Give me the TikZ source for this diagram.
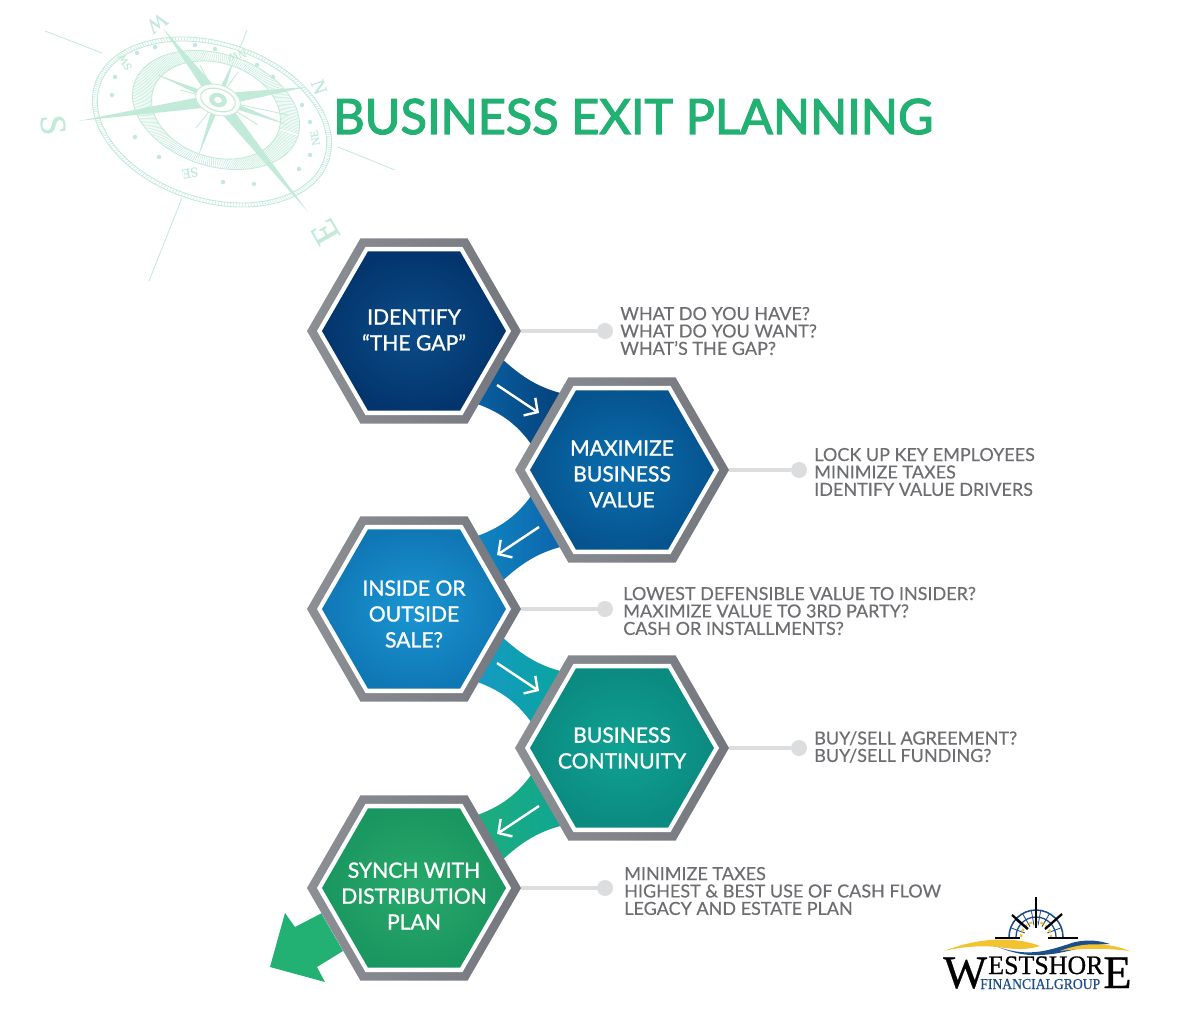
\documentclass[tikz,border=0pt]{standalone}
\usepackage{fontspec}
\setmainfont{Lato}
\newfontfamily\logofont[FakeBold=.6]{Liberation Serif}
\newfontfamily\medfont[FakeBold=1.2]{Lato}
\newfontfamily\headfont[FakeBold=2.5]{Lato}
\newfontfamily\sidefont[FakeBold=.4]{Lato}
\usetikzlibrary{shapes.geometric,arrows.meta,backgrounds,calc}
\definecolor{titlegreen}{HTML}{22B073}
\definecolor{mint}{HTML}{C2EAD9}
\definecolor{labelgray}{HTML}{6D6E71}
\definecolor{leadergray}{HTML}{DCDDDE}
\definecolor{logoblue}{HTML}{1C4D8C}
\definecolor{logogold}{HTML}{F2C230}
\definecolor{rimleft}{HTML}{8C8F94}
\definecolor{rimmid}{HTML}{A6A9AC}
\definecolor{rimright}{HTML}{74777D}
\definecolor{navyin}{HTML}{0B4C88}
\definecolor{navyout}{HTML}{03356C}
\definecolor{bluein}{HTML}{0B6EAE}
\definecolor{blueout}{HTML}{05548F}
\definecolor{skyin}{HTML}{1A96D2}
\definecolor{skyout}{HTML}{1077B5}
\definecolor{tealin}{HTML}{0FA293}
\definecolor{tealout}{HTML}{0B8A80}
\definecolor{greenin}{HTML}{28A96A}
\definecolor{greenout}{HTML}{1A9660}
\tikzset{
	hexrim/.style={regular polygon,regular polygon sides=6,minimum size=5.35cm,inner sep=0pt,left color=rimleft,middle color=rimmid,right color=rimright},
	hexring/.style={regular polygon,regular polygon sides=6,minimum size=4.85cm,inner sep=0pt,fill=white},
	hexfill/.style={regular polygon,regular polygon sides=6,minimum size=4.6cm,inner sep=0pt},
	hextext/.style={text=white,align=center,font=\medfont\fontsize{15}{18.4}\selectfont},
	leader/.style={draw=leadergray,line width=2.2pt},
	leaderdot/.style={circle,fill=leadergray,minimum size=.4cm,inner sep=0pt},
	sidetext/.style={anchor=west,align=left,text=labelgray,inner sep=0pt,font=\sidefont\fontsize{12.8}{12.4}\selectfont},
	flowline/.style={draw=white,line width=1.7pt,-{Straight Barb[length=7pt,width=15pt,line width=1.7pt]}},
	mintline/.style={draw=mint,line width=.6pt},
	hatchline/.style={draw=mint,line width=.35pt},
	minttext/.style={text=mint,inner sep=0pt,font=\logofont},
	logotext/.style={anchor=base west,inner sep=0pt},
}
\newcommand{\hexnode}[6][0]{
	\node[hexrim] (#2) at (#3) {};
	\node[hexring] (#2ring) at (#2) {};
	\node[hexfill,inner color=#4,outer color=#5] (#2fill) at (#2) {};
	\node[hextext,yshift=-#1*.025cm] (#2text) at (#2) {#6};
}
\begin{document}
\begin{tikzpicture}[x=.025cm,y=-.025cm]
	\useasboundingbox (0,0) rectangle (1200,1010);
	% compass
	\coordinate (hub) at (218,100);
	\begin{scope}[shift={(212,122)},rotate=-18]
	\draw[mintline] (0,0) ellipse [x radius=123,y radius=80];
	\draw[mintline] (0,0) ellipse [x radius=118,y radius=76];
	\foreach \a in {0,1.5,...,358}
		\draw[hatchline] (\a:123 and 80) -- (\a:118 and 76);
	\end{scope}
	\begin{scope}[shift={(216,110)},rotate=-18]
	\draw[mintline] (0,0) ellipse [x radius=86,y radius=56];
	\draw[mintline] (0,0) ellipse [x radius=66,y radius=47];
	\foreach \a in {0,1.5,...,358}
		\draw[hatchline] (\a:86 and 56) -- (\a:66 and 47);
	\end{scope}
	\foreach \x/\y in {115/77,112/95,137/53,155/47,195/45,215/49,257/65,273/77,302/105,310/122,310/155,299/169,254/184,223/182,159/157,135/137}
		\fill[mint] (\x,\y) circle (1.6pt);
	\foreach \x/\y in {288/115,158/75,200/65,258/125,180/90,250/110,238/72,196/128}
		\draw[mintline] (hub) -- (\x,\y);
	\foreach \x/\y in {234/60,198/157,158/75,288/125}
		\fill[mint] (\x,\y) -- ($(hub)!.09cm!90:(\x,\y)$) -- (hub) -- ($(hub)!.09cm!-90:(\x,\y)$) -- cycle;
	\foreach \x/\y in {307/87,78/121,163/28,308/212}
		\fill[mint] (\x,\y) -- ($(hub)!.16cm!90:(\x,\y)$) -- (hub) -- ($(hub)!.16cm!-90:(\x,\y)$) -- cycle;
	\begin{scope}[shift={(hub)},rotate=-18]
	\draw[mintline,fill=white] (0,0) ellipse [x radius=23,y radius=15];
	\draw[mint,line width=.8pt] (0,0) ellipse [x radius=18,y radius=11];
	\fill[mint] (0,0) ellipse [x radius=9,y radius=7];
	\fill[white] (0,0) ellipse [x radius=4,y radius=3];
	\end{scope}
	\draw[mintline] (45,31) -- (102,53);
	\draw[mintline] (338,147) -- (395,170);
	\draw[mintline] (247,30) -- (240,48);
	\draw[mintline] (182,198) -- (149,281);
	\node[minttext,rotate=-85,font=\logofont\fontsize{26}{26}\selectfont] (compassS) at (53,125) {S};
	\node[minttext,rotate=-70,font=\logofont\fontsize{14}{14}\selectfont] (compassN) at (319,87) {N};
	\node[minttext,rotate=-145,font=\logofont\fontsize{15}{15}\selectfont] (compassW) at (157,23) {W};
	\node[minttext,rotate=120,font=\logofont\fontsize{26}{26}\selectfont] (compassE) at (325,232) {E};
	\node[minttext,rotate=120,font=\logofont\fontsize{8}{8}\selectfont] (compassSW) at (125,62) {SW};
	\node[minttext,rotate=195,font=\logofont\fontsize{8}{8}\selectfont] (compassNW) at (237,55) {NW};
	\node[minttext,rotate=100,font=\logofont\fontsize{8}{8}\selectfont] (compassNE) at (315,138) {NE};
	\node[minttext,rotate=190,font=\logofont\fontsize{10}{10}\selectfont] (compassSE) at (190,173) {SE};
	% title
	\node[anchor=base west,inner sep=0pt,text=titlegreen,font=\headfont\fontsize{34.6}{36}\selectfont] (title) at (333,134) {BUSINESS EXIT PLANNING};
	% hexagons
	\hexnode[-1]{identify}{414,331}{navyin}{navyout}{IDENTIFY\\“THE GAP”}
	\hexnode[4]{maximize}{622,470}{bluein}{blueout}{MAXIMIZE\\BUSINESS\\VALUE}
	\hexnode[5]{sale}{414,609}{skyin}{skyout}{INSIDE OR\\OUTSIDE\\SALE?}
	\hexnode{continuity}{622,748}{tealin}{tealout}{BUSINESS\\CONTINUITY}
	\hexnode[8]{synch}{414,888}{greenin}{greenout}{SYNCH WITH\\DISTRIBUTION\\PLAN}
	% ribbons between hexagons
	\begin{scope}[on background layer]
	\foreach \hex/\ys/\cola/\colb in {identify/1/0A63A5/043F78,sale/-1/1088C4/0C62A8,sale/1/1798C8/08A69C,synch/-1/1FAE7A/0EA595}{
		\begin{scope}[shift={(\hex)},yscale=\ys]
		\definecolor{ribbona}{HTML}{\cola}
		\definecolor{ribbonb}{HTML}{\colb}
		\shade[left color=ribbona,right color=ribbonb] (80,20) .. controls (105,45) and (125,58) .. (155,64) -- (125,125) .. controls (105,92) and (85,80) .. (55,70) -- cycle;
		\end{scope}
	}
	\end{scope}
	\foreach \hex/\ys/\tail/\tip in {identify/1/flowa/flowb,sale/-1/flowb/flowa,sale/1/flowa/flowb,synch/-1/flowb/flowa}{
		\begin{scope}[shift={(\hex)},yscale=\ys]
		\coordinate (flowa) at (83,54);
		\coordinate (flowb) at (125,82);
		\draw[flowline] (\tail) -- (\tip);
		\end{scope}
	}
	% leaving arrow
	\begin{scope}[on background layer]
	\fill[titlegreen] (synch) -- (322,913) -- (295,927) -- (285,913) -- (270,967) -- (325,982) -- (317,967) -- (343,951) -- cycle;
	\end{scope}
	% side labels
	\foreach \hex/\dotname/\x in {identify/dota/605,maximize/dotb/799,sale/dotc/605,continuity/dotd/799,synch/dote/605}{
		\node[leaderdot] (\dotname) at (\x,0 |- \hex) {};
		\draw[leader] (\hex.east) -- (\dotname);
	}
	\node[sidetext] (gaptext) at (620,331) {WHAT DO YOU HAVE?\\WHAT DO YOU WANT?\\WHAT’S THE GAP?};
	\node[sidetext] (valuetext) at (814,472) {LOCK UP KEY EMPLOYEES\\MINIMIZE TAXES\\IDENTIFY VALUE DRIVERS};
	\node[sidetext] (saletext) at (623,611) {LOWEST DEFENSIBLE VALUE TO INSIDER?\\MAXIMIZE VALUE TO 3RD PARTY?\\CASH OR INSTALLMENTS?};
	\node[sidetext] (conttext) at (814,747) {BUY/SELL AGREEMENT?\\BUY/SELL FUNDING?};
	\node[sidetext] (synchtext) at (624,891) {MINIMIZE TAXES\\HIGHEST \& BEST USE OF CASH FLOW\\LEGACY AND ESTATE PLAN};
	% logo
	\coordinate (wheel) at (1036,937);
	\draw[logoblue,line width=1.1pt] (1009,937) arc (180:360:27);
	\draw[logoblue,line width=.9pt] (1016,937) arc (180:360:20);
	\foreach \a in {200,220,...,340}
		\draw[logoblue,line width=.6pt] (wheel) -- ++(\a:27);
	\draw[logogold,line width=1.6pt,dash pattern=on 2pt off 2pt] (1021,937) arc (180:360:15);
	\fill[white] (wheel) circle (.3cm);
	\draw[black,line width=1.4pt] (1036,897) -- (1036,928);
	\draw[black,line width=1.6pt] (1012,915) -- (1028,929);
	\draw[black,line width=1.6pt] (1062,914) -- (1045,929);
	\draw[black,line width=1.4pt] (995,938) -- (1020,938);
	\draw[black,line width=1.4pt] (1048,938) -- (1078,938);
	\fill[logogold] (944,951) .. controls (985,935) and (1020,938) .. (1040,946) .. controls (1030,949) and (1020,950) .. (1005,948) .. controls (985,945) and (965,946) .. cycle;
	\fill[logoblue] (998,947) .. controls (1030,958) and (1050,950) .. (1075,942) .. controls (1090,939) and (1100,941) .. (1110,944) .. controls (1080,945) and (1068,954) .. (1040,955) .. controls (1025,956) and (1010,952) .. cycle;
	\fill[logogold] (1060,951) .. controls (1085,941) and (1110,943) .. (1130,951) .. controls (1105,948) and (1085,948) .. cycle;
	\node[logotext,font=\logofont\fontsize{33}{33}\selectfont] (logow) at (943,988) {W};
	\node[logotext,xscale=.97,transform shape,font=\logofont\fontsize{19}{19}\selectfont] (logomid) at (988,974) {ESTSHOR};
	\node[logotext,font=\logofont\fontsize{33}{33}\selectfont] (logoe) at (1103,988) {E};
	\node[logotext,xscale=.9,transform shape,text=logoblue,font=\logofont\fontsize{10.8}{11}\selectfont] (logogroup) at (980,989) {FINANCIALGROUP};
\end{tikzpicture}
\end{document}
